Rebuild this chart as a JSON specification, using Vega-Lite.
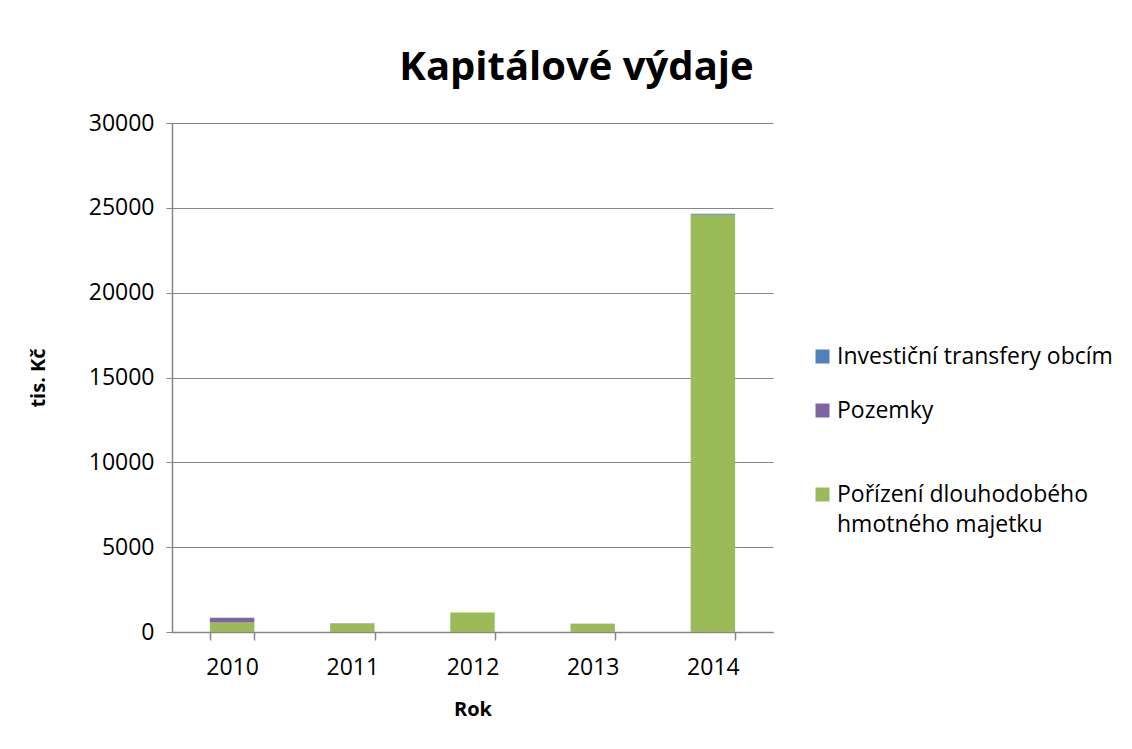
{
  "$schema": "https://vega.github.io/schema/vega-lite/v6.json",
  "width": 601,
  "height": 509,
  "autosize": {"type": "none"},
  "padding": {"left": 172, "top": 123, "right": 359, "bottom": 117},
  "background": "white",
  "config": {
    "font": "Open Sans",
    "view": {"stroke": null},
    "axis": {"labelFont": "Open Sans", "titleFont": "Open Sans", "labelColor": "#000", "titleColor": "#000"},
    "style": {"guide-label": {"lineHeight": 30}}
  },
  "title": {
    "text": "Kapitálové výdaje",
    "fontSize": 40,
    "fontWeight": "bold",
    "font": "Open Sans",
    "color": "#000",
    "anchor": "middle",
    "dx": 104,
    "offset": 24
  },
  "data": {
    "values": [
      {"rok": "2010", "serie": "Pořízení dlouhodobého hmotného majetku", "hodnota": 560},
      {"rok": "2010", "serie": "Pozemky", "hodnota": 280},
      {"rok": "2010", "serie": "Investiční transfery obcím", "hodnota": 0},
      {"rok": "2011", "serie": "Pořízení dlouhodobého hmotného majetku", "hodnota": 500},
      {"rok": "2011", "serie": "Pozemky", "hodnota": 20},
      {"rok": "2011", "serie": "Investiční transfery obcím", "hodnota": 0},
      {"rok": "2012", "serie": "Pořízení dlouhodobého hmotného majetku", "hodnota": 1150},
      {"rok": "2012", "serie": "Pozemky", "hodnota": 0},
      {"rok": "2012", "serie": "Investiční transfery obcím", "hodnota": 0},
      {"rok": "2013", "serie": "Pořízení dlouhodobého hmotného majetku", "hodnota": 465},
      {"rok": "2013", "serie": "Pozemky", "hodnota": 20},
      {"rok": "2013", "serie": "Investiční transfery obcím", "hodnota": 0},
      {"rok": "2014", "serie": "Pořízení dlouhodobého hmotného majetku", "hodnota": 24590},
      {"rok": "2014", "serie": "Pozemky", "hodnota": 0},
      {"rok": "2014", "serie": "Investiční transfery obcím", "hodnota": 60}
    ]
  },
  "mark": {"type": "bar"},
  "encoding": {
    "x": {
      "field": "rok",
      "type": "ordinal",
      "title": "Rok",
      "scale": {"paddingInner": 0.63, "paddingOuter": 0.315},
      "axis": {
        "labelAngle": 0,
        "labelFontSize": 23,
        "labelPadding": 16,
        "titleFontSize": 20,
        "titleFontWeight": "bold",
        "titlePadding": 20,
        "tickBand": "extent",
        "tickSize": 8,
        "tickColor": "#868686",
        "domainColor": "#868686",
        "domainWidth": 1.5,
        "tickWidth": 1.5
      }
    },
    "y": {
      "field": "hodnota",
      "type": "quantitative",
      "aggregate": "sum",
      "stack": "zero",
      "title": "tis. Kč",
      "scale": {"domain": [0, 30000], "nice": false},
      "axis": {
        "values": [0, 5000, 10000, 15000, 20000, 25000, 30000],
        "format": "d",
        "labelFontSize": 23,
        "labelPadding": 12,
        "titleFontSize": 20,
        "titleFontWeight": "bold",
        "titlePadding": 40,
        "tickSize": 6,
        "tickColor": "#868686",
        "domainColor": "#868686",
        "domainWidth": 1.5,
        "gridColor": "#868686",
        "gridWidth": 1
      }
    },
    "color": {
      "field": "serie",
      "type": "nominal",
      "title": null,
      "scale": {
        "domain": ["Investiční transfery obcím", "Pozemky", "Pořízení dlouhodobého hmotného majetku"],
        "range": ["#4F81BD", "#8064A2", "#9BBB59"]
      },
      "legend": {
        "orient": "none",
        "legendX": 639,
        "legendY": 222,
        "symbolType": "square",
        "symbolSize": 196,
        "symbolStrokeWidth": 0,
        "labelFontSize": 23,
        "labelFont": "Open Sans",
        "labelColor": "#000",
        "labelLimit": 400,
        "labelOffset": 3,
        "rowPadding": 30,
        "labelExpr": "datum.label == 'Pořízení dlouhodobého hmotného majetku' ? ['Pořízení dlouhodobého', 'hmotného majetku'] : datum.label == 'Pozemky' ? ['Pozemky', ''] : datum.label"
      }
    },
    "order": {"field": "serie", "sort": "descending"}
  }
}
